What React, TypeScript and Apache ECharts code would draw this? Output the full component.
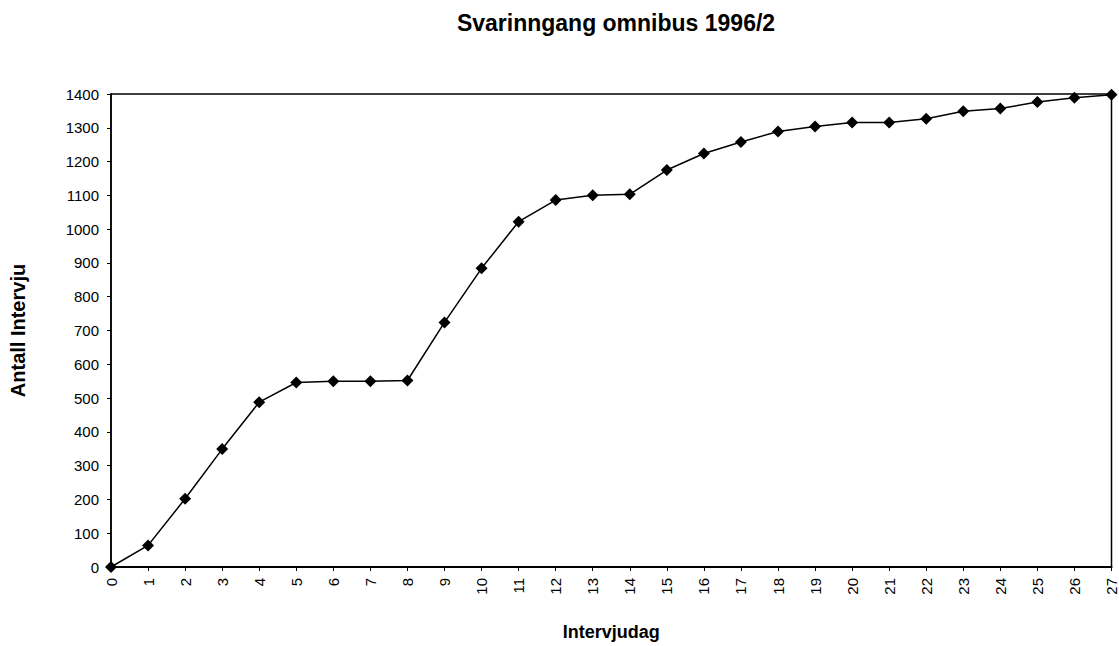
import React, { useEffect, useRef } from "react";
import * as echarts from "echarts";

const days = [0, 1, 2, 3, 4, 5, 6, 7, 8, 9, 10, 11, 12, 13, 14, 15, 16, 17, 18, 19, 20, 21, 22, 23, 24, 25, 26, 27];
const interviews = [0, 64, 202, 349, 488, 546, 550, 550, 552, 724, 884, 1022, 1086, 1100, 1103, 1175, 1224, 1258, 1289, 1304, 1316, 1316, 1327, 1349, 1357, 1376, 1389, 1398];
const title = "Svarinngang omnibus 1996/2";
const xName = "Intervjudag";
const yName = "Antall Intervju";

export default function App() {
  const ref = useRef<HTMLDivElement>(null);
  useEffect(() => {
    if (!ref.current) return;
    const chart = echarts.init(ref.current, undefined, { renderer: "svg" });
    const font = "Liberation Sans, Arial, sans-serif";
    chart.setOption({
      animation: false,
      backgroundColor: "#fff",
      textStyle: { fontFamily: font },
      title: {
        text: title,
        left: 611,
        textAlign: "center",
        top: 6,
        textStyle: { fontSize: 23, fontWeight: "bold", color: "#000", fontFamily: font },
      },
      grid: {
        left: 107,
        right: 6,
        top: 94,
        bottom: 66,
        show: true,
        borderColor: "#000",
        borderWidth: 1.5,
        backgroundColor: "#fff",
      },
      xAxis: {
        type: "value",
        min: 0,
        max: 27,
        interval: 1,
        name: xName,
        nameLocation: "middle",
        nameGap: 56,
        nameTextStyle: { fontSize: 18, fontWeight: "bold", color: "#000" },
        axisLine: { show: true, lineStyle: { color: "#000", width: 2 } },
        axisTick: { show: true, inside: false, length: 4, lineStyle: { color: "#000" } },
        axisLabel: { rotate: 90, fontSize: 15, color: "#000", margin: 11 },
        splitLine: { show: false },
      },
      yAxis: {
        type: "value",
        min: 0,
        max: 1400,
        interval: 100,
        name: yName,
        nameLocation: "middle",
        nameGap: 83,
        nameTextStyle: { fontSize: 20, fontWeight: "bold", color: "#000" },
        axisLine: { show: true, lineStyle: { color: "#000", width: 1.5 } },
        axisTick: { show: true, length: 4, lineStyle: { color: "#000" } },
        axisLabel: { fontSize: 15, color: "#000", margin: 12, formatter: (v: number) => String(v) },
        splitLine: { show: false },
      },
      series: [
        {
          type: "line",
          data: days.map((d, i) => [d, interviews[i]]),
          symbol: "diamond",
          symbolSize: 12,
          showAllSymbol: true,
          clip: false,
          lineStyle: { color: "#000", width: 1.5 },
          itemStyle: { color: "#000" },
        },
      ],
    });
    return () => chart.dispose();
  }, []);
  return (
    <div
      ref={ref}
      style={{ position: "fixed", left: 0, top: 0, width: 1119, height: 646 }}
    />
  );
}
